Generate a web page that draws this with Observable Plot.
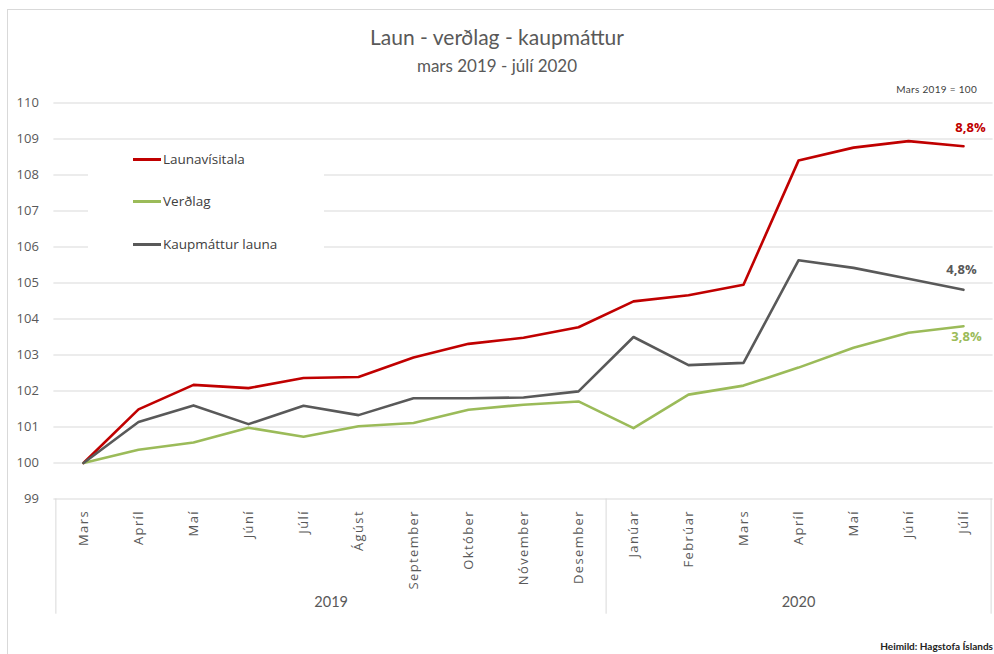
<!DOCTYPE html>
<html><head><meta charset="utf-8">
<script src="https://cdn.jsdelivr.net/npm/d3@7"></script>
<script src="https://cdn.jsdelivr.net/npm/@observablehq/plot@0.6"></script>
<style>
html,body{margin:0;padding:0;background:#fff;overflow:hidden;}
#wrap{position:relative;width:994px;height:654px;overflow:hidden;font-family:"Open Sans",sans-serif;}
#border{position:absolute;left:7px;top:9px;width:1100px;height:800px;border:1px solid #d9d9d9;box-sizing:border-box;}
#head{position:relative;height:80px;}
#title{position:absolute;top:23px;left:0;width:994px;text-align:center;font-family:Lato,sans-serif;font-size:21px;color:#595959;line-height:28px;}
#subtitle{position:absolute;top:54px;left:0;width:994px;text-align:center;font-family:Lato,sans-serif;font-size:17px;color:#595959;line-height:24px;}
#chart{position:relative;}
#note{position:absolute;right:17px;top:83px;font-family:Lato,sans-serif;font-size:10px;color:#404040;letter-spacing:0.3px;}
#legend{position:absolute;left:88px;top:145px;width:236px;height:120px;background:#fff;}
.li{position:absolute;left:45px;height:20px;display:flex;align-items:center;font-family:"Open Sans",sans-serif;font-size:13.5px;color:#404040;}
.li span.sw{display:inline-block;width:28px;height:3px;margin-right:2px;}
#source{position:absolute;right:1px;top:640px;font-family:Lato,sans-serif;font-size:10px;font-weight:bold;color:#222;white-space:nowrap;}
</style>
</head><body>
<div id="wrap">
  <div id="border"></div>
  <div id="head"><div id="title"></div><div id="subtitle"></div></div>
  <div id="chart"></div>
  <div id="note"></div>
  <div id="legend"></div>
  <div id="source"></div>
</div>
<script>
// ---- data ----
const titleText = "Laun - verðlag - kaupmáttur";
const subtitleText = "mars 2019 - júlí 2020";
const noteText = "Mars 2019 = 100";
const sourceText = "Heimild: Hagstofa Íslands";
const months = ["Mars","Apríl","Maí","Júní","Júlí","Ágúst","September","Október","Nóvember","Desember",
                "Janúar","Febrúar","Mars","Apríl","Maí","Júní","Júlí"];
const yearLabels = ["2019","2020"];
const seriesNames = ["Launavísitala","Verðlag","Kaupmáttur launa"];
const seriesColors = ["#C00000","#9BBB59","#595959"];
const launavisitala = [100,101.49,102.17,102.08,102.36,102.39,102.93,103.31,103.48,103.77,104.49,104.66,104.95,108.40,108.76,108.94,108.80];
const verdlag       = [100,100.37,100.57,100.98,100.73,101.02,101.11,101.48,101.62,101.71,100.97,101.90,102.15,102.65,103.20,103.62,103.80];
const kaupmattur    = [100,101.14,101.60,101.08,101.59,101.33,101.80,101.80,101.82,101.99,103.50,102.72,102.78,105.63,105.42,105.12,104.81];
const yTicks = [99,100,101,102,103,104,105,106,107,108,109,110];

// ---- layout ----
const W = 994, H = 574, mL = 53.4, mR = 1.4, mT = 22.5, mB = 155.5;
const step = (W - mL - mR) / months.length;
const idx = d3.range(months.length);
const series = [launavisitala, verdlag, kaupmattur];
const rows = series.map((vals, s) => vals.map((v, i) => ({i, v, s: seriesNames[s]})));
const pct = v => (v - 100).toFixed(1).replace(".", ",") + "%";

document.getElementById("title").textContent = titleText;
document.getElementById("subtitle").textContent = subtitleText;
document.getElementById("note").textContent = noteText;
document.getElementById("source").textContent = sourceText;

const legend = document.getElementById("legend");
const legendTops = [4, 46, 89];
seriesNames.forEach((n, k) => {
  const d = document.createElement("div");
  d.className = "li";
  d.style.top = legendTops[k] + "px";
  d.innerHTML = `<span class="sw" style="background:${seriesColors[k]}"></span>${n}`;
  legend.appendChild(d);
});

// label offsets in series order: Launavísitala, Verðlag, Kaupmáttur
const endOffsets = [[7,-18],[3,11],[-2,-20]];
const last = months.length - 1;

const plot = Plot.plot({
  width: W, height: H,
  marginLeft: mL, marginRight: mR, marginTop: mT, marginBottom: mB,
  style: {fontFamily: "'Open Sans', sans-serif", color: "#595959", background: "transparent", overflow: "visible"},
  x: {type: "point", domain: idx, padding: 0.5},
  y: {domain: [99, 110]},
  marks: [
    Plot.ruleY(yTicks, {stroke: "#d9d9d9", strokeWidth: 1}),
    Plot.axisY({ticks: yTicks, tickSize: 0, tickPadding: 15, fontSize: 13, label: null, tickFormat: d => d}),
    Plot.axisX({tickFormat: i => months[i], tickRotate: -90, tickSize: 0, tickPadding: 11, fontSize: 13, label: null}),
    Plot.ruleX([0], {x: d => d, dx: -step/2, y1: 99, y2: 95.8, stroke: "#d9d9d9"}),
    Plot.ruleX([9, last], {x: d => d, dx: step/2, y1: 99, y2: 95.8, stroke: "#d9d9d9"}),
    Plot.text([yearLabels[0]], {x: [4], text: d => d, frameAnchor: "bottom", dy: 107.5, dx: step/2, fontSize: 14.5, fontFamily: "Lato, sans-serif", fill: "#595959"}),
    Plot.text([yearLabels[1]], {x: [13], text: d => d, frameAnchor: "bottom", dy: 107.5, fontSize: 14.5, fontFamily: "Lato, sans-serif", fill: "#595959"}),
    ...rows.map((r, k) => Plot.line(r, {x: "i", y: "v", stroke: seriesColors[k], strokeWidth: 2.6, strokeLinejoin: "round", strokeLinecap: "round"})),
    ...series.map((vals, k) => Plot.text([vals[last]], {x: [last], y: d => d, text: d => pct(d), dx: endOffsets[k][0], dy: endOffsets[k][1], fill: seriesColors[k], fontWeight: "bold", fontSize: 13}))
  ]
});
document.getElementById("chart").appendChild(plot);
d3.select(plot).selectAll('g[aria-label="x-axis tick label"] text').attr("letter-spacing", "1.4");
</script>
</body></html>
